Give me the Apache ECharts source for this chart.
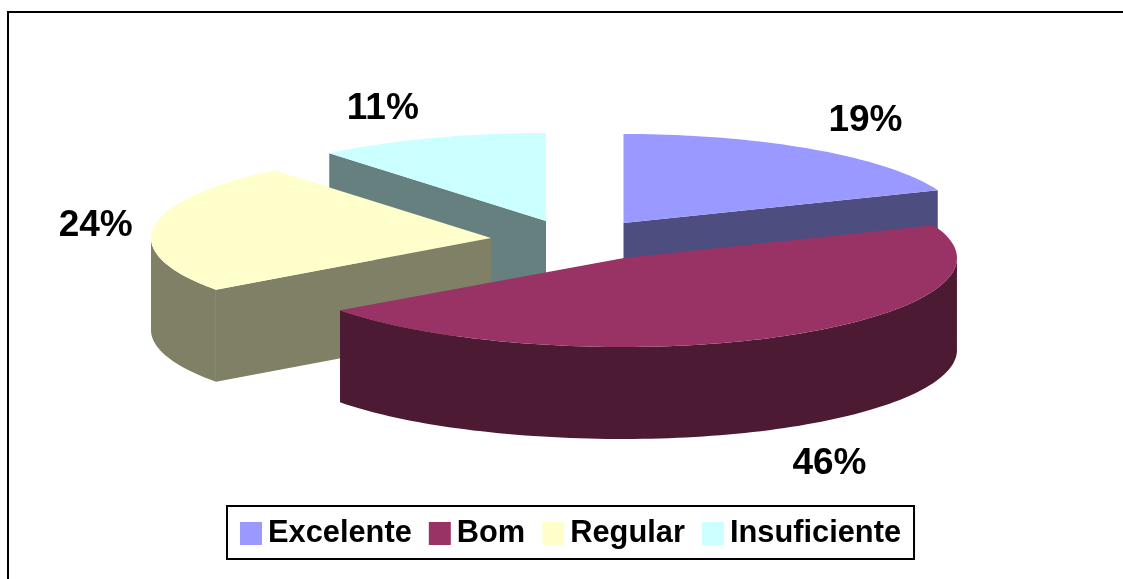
<!DOCTYPE html>
<html>
<head>
<meta charset="utf-8">
<style>html,body{margin:0;padding:0;background:#fff}#c{width:1123px;height:579px}</style>
<script src="https://cdn.jsdelivr.net/npm/echarts@6/dist/echarts.min.js"></script>
</head>
<body>
<div id="c"></div>
<script>
const categories = ['Excelente', 'Bom', 'Regular', 'Insuficiente'];
const values = [19, 46, 24, 11];
const topColors = ['#9999FF', '#993366', '#FFFFCC', '#CCFFFF'];
const sideColors = ['#4D4D80', '#4D1A33', '#808066', '#668080'];

// pie projection: each exploded slice has its own apex; z sets painting order
const layout = [
  { cx: 623.5, cy: 223, rxL: 338, rxR: 338, ry: 89, lx: 52, ly: -29, z: 1 },
  { cx: 624, cy: 258, rxL: 351, rxR: 333, ry: 89, lx: 45, ly: 128, z: 4 },
  { cx: 491, cy: 238, rxL: 340, rxR: 340, ry: 88, lx: -58, ly: -1, z: 3 },
  { cx: 546, cy: 221, rxL: 340, rxR: 340, ry: 88, lx: -48, ly: -29, z: 2 }
];
const depth = 92;
const total = values.reduce((a, b) => a + b, 0);

function makeRender(idx) {
  return function (params, api) {
    const v = api.value(0);
    const before = values.slice(0, idx).reduce((a, b) => a + b, 0);
    const a0 = before / total * Math.PI * 2;
    const a1 = (before + v) / total * Math.PI * 2;
    const L = layout[idx];
    const pt = (a, dz) => {
      const s = Math.sin(a);
      return [L.cx + (s < 0 ? L.rxL : L.rxR) * s, L.cy - L.ry * Math.cos(a) + (dz || 0)];
    };
    const arcTop = [], rimTop = [], rimBottom = [];
    const steps = Math.max(8, Math.round((a1 - a0) / (Math.PI / 120)));
    for (let i = 0; i <= steps; i++) {
      const a = a0 + (a1 - a0) * i / steps;
      arcTop.push(pt(a));
      // only the front half of the rim can be seen
      if (Math.cos(a) <= 0) {
        rimTop.push(pt(a));
        rimBottom.push(pt(a, depth));
      }
    }
    const apex = [L.cx, L.cy];
    const apexB = [L.cx, L.cy + depth];
    const last = arcTop[steps];
    const sideStyle = { fill: sideColors[idx] };
    const down = p => [p[0], p[1] + depth];
    const children = [];
    // cut faces are drawn only when they face the viewer
    if (Math.sin(a0) < -1e-6) {
      children.push({ type: 'polygon', shape: { points: [apex, arcTop[0], down(arcTop[0]), apexB] }, style: sideStyle });
    }
    if (Math.sin(a1) > 1e-6) {
      children.push({ type: 'polygon', shape: { points: [apex, last, down(last), apexB] }, style: sideStyle });
    }
    if (rimTop.length > 1) {
      children.push({ type: 'polygon', shape: { points: rimTop.concat(rimBottom.slice().reverse()) }, style: sideStyle });
    }
    children.push({ type: 'polygon', shape: { points: [apex].concat(arcTop) }, style: { fill: topColors[idx] } });
    const mid = pt((a0 + a1) / 2);
    children.push({
      type: 'text',
      style: {
        x: mid[0] + L.lx, y: mid[1] + L.ly,
        text: v + '%', fill: '#000',
        font: 'bold 37px "Liberation Sans", Arial, sans-serif',
        align: 'center', verticalAlign: 'middle'
      }
    });
    return { type: 'group', children: children };
  };
}

const chart = echarts.init(document.getElementById('c'), null, { renderer: 'canvas' });
chart.setOption({
  animation: false,
  backgroundColor: '#fff',
  legend: {
    show: true,
    data: categories,
    left: 227, top: 506,
    orient: 'horizontal',
    icon: 'rect',
    itemWidth: 22, itemHeight: 23, itemGap: 17,
    padding: [12, 13, 10, 13],
    borderColor: '#000', borderWidth: 2,
    backgroundColor: '#fff',
    selectedMode: false,
    textStyle: { color: '#000', fontFamily: '"Liberation Sans", Arial, sans-serif', fontWeight: 'bold', fontSize: 30.8, lineHeight: 23, padding: [2, 0, 0, 1] }
  },
  graphic: [{
    type: 'rect', z: 0, silent: true,
    shape: { x: 8, y: 12, width: 1300, height: 800 },
    style: { fill: 'none', stroke: '#000', lineWidth: 2 }
  }],
  series: categories.map((name, i) => ({
    type: 'custom',
    name: name,
    coordinateSystem: 'none',
    silent: true,
    z: layout[i].z + 1,
    itemStyle: { color: topColors[i] },
    renderItem: makeRender(i),
    data: [[values[i]]]
  }))
});
</script>
</body>
</html>
